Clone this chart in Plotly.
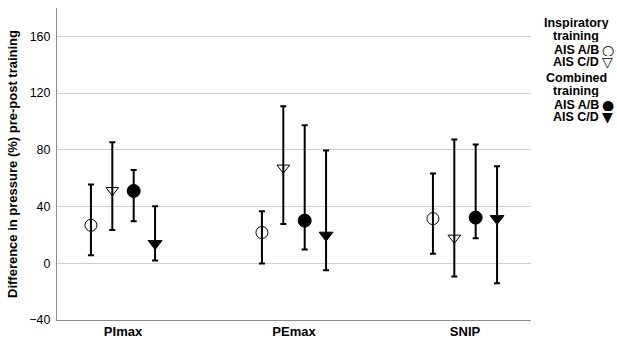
import plotly.graph_objects as go

categories = ["PImax", "PEmax", "SNIP"]
series_names = ["Inspiratory training AIS A/B", "Inspiratory training AIS C/D",
                "Combined training AIS A/B", "Combined training AIS C/D"]
means = [
    [26.8, 21.7, 31.5],
    [51.5, 67.3, 17.9],
    [51.0, 30.1, 32.2],
    [13.9, 19.8, 31.5],
]
upper = [
    [55.5, 36.7, 63.3],
    [85.4, 110.8, 87.3],
    [65.8, 97.4, 83.8],
    [40.2, 79.5, 68.5],
]
lower = [
    [5.6, -0.2, 6.8],
    [23.5, 27.7, -9.4],
    [29.6, 9.7, 17.6],
    [1.9, -4.9, -14.1],
]
y_ticks = [-40, 0, 40, 80, 120, 160]
legend_headers = ["Inspiratory", "training", None, None,
                  "Combined", "training", None, None]
legend_labels = [None, None, "AIS A/B", "AIS C/D", None, None, "AIS A/B", "AIS C/D"]
legend_glyphs = [None, None, "\u25CB", "\u25BD", None, None, "\u25CF", "\u25BC"]

symbols = ["circle-open", "triangle-down-open", "circle", "triangle-down"]
sizes = [12, 11, 13, 12]
offsets = [-0.1875, -0.0625, 0.0625, 0.1875]

W, H = 617, 338
L, R, T, B = 57, 86, 8, 18
pw, ph = W - L - R, H - T - B

fig = go.Figure()
for i, name in enumerate(series_names):
    xs = [c + offsets[i] for c in range(len(categories))]
    fig.add_trace(go.Scatter(
        x=xs, y=means[i], mode="markers", name=name, showlegend=False,
        marker=dict(symbol=symbols[i], size=sizes[i], color="black",
                    line=dict(color="black", width=1)),
        error_y=dict(type="data", symmetric=False,
                     array=[u - m for u, m in zip(upper[i], means[i])],
                     arrayminus=[m - l for m, l in zip(means[i], lower[i])],
                     color="black", thickness=2, width=3),
    ))

def px_x(X):
    return (X - L) / pw

def px_y(Y):
    return (H - B - Y) / ph

FONT = "Liberation Sans, Arial, sans-serif"
line_y = [23, 36, 50, 62, 78, 91, 105, 117]
for j in range(len(line_y)):
    if legend_headers[j] is not None:
        fig.add_annotation(
            x=px_x(576), y=px_y(line_y[j]), xref="paper", yref="paper",
            text="<b>%s</b>" % legend_headers[j], showarrow=False,
            xanchor="center", yanchor="middle", borderpad=0, height=12,
            font=dict(family=FONT, size=12.5, color="black"),
        )
    else:
        fig.add_annotation(
            x=px_x(600), y=px_y(line_y[j]), xref="paper", yref="paper",
            text="<b>%s</b>" % legend_labels[j], showarrow=False,
            xanchor="right", yanchor="middle", borderpad=0, height=12,
            font=dict(family=FONT, size=12.5, color="black"),
        )
        fig.add_annotation(
            x=px_x(607.5), y=px_y(line_y[j]), xref="paper", yref="paper",
            text=legend_glyphs[j], showarrow=False,
            xanchor="center", yanchor="middle", borderpad=0, height=12,
            font=dict(family="DejaVu Sans", size=14, color="black"),
        )

fig.update_layout(
    width=W, height=H,
    margin=dict(l=L, r=R, t=T, b=B, pad=0, autoexpand=False),
    plot_bgcolor="white", paper_bgcolor="white",
    font=dict(family=FONT, color="black"),
    xaxis=dict(range=[-0.386, 2.386], tickvals=list(range(len(categories))),
               ticktext=["<b>%s</b>" % c for c in categories],
               tickfont=dict(size=13), showgrid=False, zeroline=False, automargin=False,
               showline=True, linecolor="#8c8c8c", linewidth=1, ticks="",
               ticklabelstandoff=-1),
    yaxis=dict(range=[-40, 180], tickvals=y_ticks, tickfont=dict(size=12.5),
               showgrid=True, gridcolor="#cfcfcf", gridwidth=1, zeroline=False,
               showline=True, linecolor="#8c8c8c", linewidth=1, ticks="", automargin=False,
               ticklabelstandoff=3,
               title=dict(text="<b>Difference in pressure (%) pre-post training</b>",
                          font=dict(size=13), standoff=8)),
)

fig.write_html("out.html", config={"displayModeBar": False},
               post_script="document.body.style.margin='0';")
